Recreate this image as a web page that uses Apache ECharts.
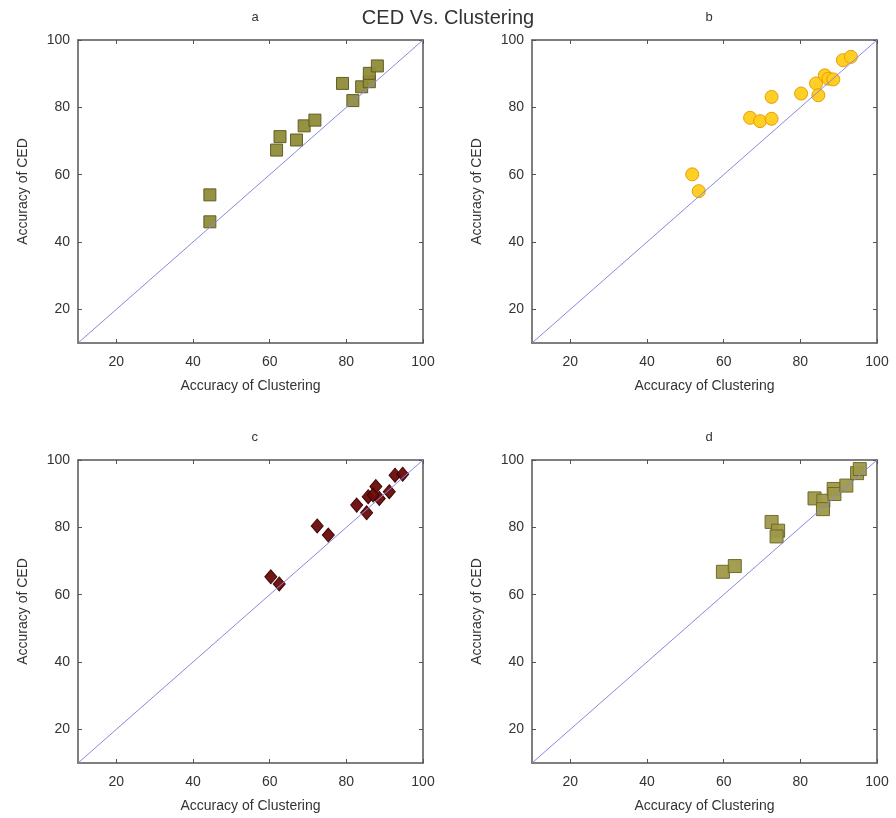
<!DOCTYPE html>
<html>
<head>
<meta charset="utf-8">
<script src="https://cdn.jsdelivr.net/npm/echarts@6/dist/echarts.min.js"></script>
<style>
  html, body { margin: 0; padding: 0; background: #fff; }
  #main { width: 896px; height: 818px; }
</style>
</head>
<body>
<div id="main"></div>
<script type="text/javascript">
    // data: [accuracy of clustering, accuracy of CED]
    var panelNames = ['a', 'b', 'c', 'd'];
    var diagonal = [10, 100];
    var axisTicks = [20, 40, 60, 80, 100];

    var dataA = [
        [44.4, 54.0], [44.4, 46.0], [61.8, 67.3], [62.7, 71.3], [67.0, 70.3],
        [69.0, 74.5], [71.8, 76.2], [79.0, 87.1], [81.7, 82.0], [84.0, 86.1],
        [86.0, 87.6], [86.0, 90.1], [88.1, 92.3]
    ];
    var dataB = [
        [51.8, 60.1], [53.5, 55.1], [66.9, 76.9], [69.5, 75.9], [72.5, 76.6],
        [72.5, 83.1], [80.2, 84.1], [84.1, 87.1], [84.7, 83.6], [86.4, 89.5],
        [87.3, 88.5], [88.6, 88.3], [91.1, 94.0], [93.2, 95.0]
    ];
    var dataC = [
        [60.3, 65.3], [62.5, 63.2], [72.4, 80.4], [75.3, 77.7], [82.7, 86.6],
        [85.3, 84.3], [85.7, 89.1], [87.7, 92.1], [88.6, 88.6], [87.0, 89.6],
        [91.2, 90.6], [92.7, 95.5], [94.7, 95.8]
    ];
    var dataD = [
        [59.8, 66.8], [62.9, 68.5], [72.5, 81.6], [74.2, 79.0], [73.8, 77.3],
        [83.7, 88.6], [86.0, 87.9], [85.9, 85.4], [88.7, 91.4], [88.9, 89.9],
        [92.0, 92.4], [94.8, 96.1], [95.5, 97.3]
    ];

    var font = 'Liberation Sans, Arial, sans-serif';
    var grids = [
        {left: 78, top: 40, width: 345, height: 303},
        {left: 532, top: 40, width: 345, height: 303},
        {left: 78, top: 460, width: 345, height: 303},
        {left: 532, top: 460, width: 345, height: 303}
    ];

    var xAxes = [], yAxes = [], titles = [];
    titles.push({
        text: 'CED Vs. Clustering', left: 'center', top: 3,
        textStyle: {fontFamily: font, fontSize: 20, fontWeight: 'normal', color: '#333'}
    });

    grids.forEach(function (g, i) {
        var base = {
            gridIndex: i, type: 'value', min: diagonal[0], max: diagonal[1], interval: 10,
            axisLine: {show: true, onZero: false, lineStyle: {color: '#555', width: 1.5}},
            axisTick: {show: true, inside: true, length: 4, lineStyle: {color: '#555'},
                customValues: axisTicks},
            splitLine: {show: false}
        };
        var lbl = {color: '#333', fontFamily: font, fontSize: 14, customValues: axisTicks};
        xAxes.push(Object.assign({}, base, {
            position: 'bottom',
            axisLabel: Object.assign({margin: 12}, lbl),
            name: 'Accuracy of Clustering', nameLocation: 'middle', nameGap: 36,
            nameTextStyle: {color: '#333', fontFamily: font, fontSize: 14}
        }));
        xAxes.push(Object.assign({}, base, {position: 'top', axisLabel: {show: false}}));
        yAxes.push(Object.assign({}, base, {
            position: 'left',
            axisLabel: Object.assign({margin: 8}, lbl),
            name: 'Accuracy of CED', nameLocation: 'middle', nameGap: 48,
            nameTextStyle: {color: '#333', fontFamily: font, fontSize: 14}
        }));
        yAxes.push(Object.assign({}, base, {position: 'right', axisLabel: {show: false}}));
        titles.push({
            text: panelNames[i], left: g.left + g.width / 2 - 4, top: g.top - 34,
            textStyle: {fontFamily: font, fontSize: 13, fontWeight: 'normal', color: '#333'}
        });
    });

    var styles = [
        {data: dataA, symbol: 'rect', size: 12, color: '#8f8c3a', border: '#5e5a1e'},
        {data: dataB, symbol: 'circle', size: 13, color: '#ffcc1a', border: '#e59a00'},
        {data: dataC, symbol: 'diamond', size: [12, 14], color: '#6a0a0a', border: '#3a0000'},
        {data: dataD, symbol: 'rect', size: 13, color: '#9e9948', border: '#6b6626'}
    ];

    var series = [];
    styles.forEach(function (s, i) {
        series.push({
            type: 'line', xAxisIndex: i * 2, yAxisIndex: i * 2,
            data: [[diagonal[0], diagonal[0]], [diagonal[1], diagonal[1]]],
            showSymbol: false, silent: true,
            lineStyle: {color: '#8888dd', width: 1}
        });
        series.push({
            type: 'scatter', xAxisIndex: i * 2, yAxisIndex: i * 2,
            data: s.data, symbol: s.symbol, symbolSize: s.size,
            itemStyle: {color: s.color, borderColor: s.border, borderWidth: 1, opacity: 0.95}
        });
    });

    var myChart = echarts.init(document.getElementById('main'));
    myChart.setOption({
        animation: false,
        backgroundColor: '#fff',
        title: titles,
        grid: grids,
        xAxis: xAxes,
        yAxis: yAxes,
        series: series
    });
</script>
</body>
</html>
